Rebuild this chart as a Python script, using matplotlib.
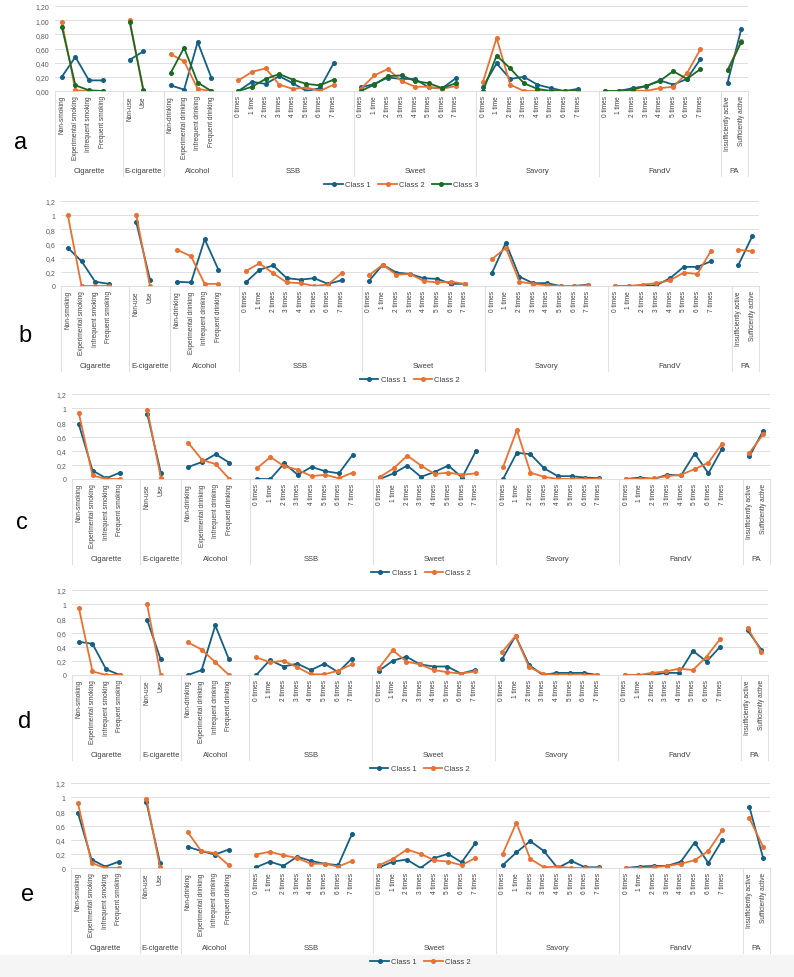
import numpy as np
import matplotlib.pyplot as plt
import matplotlib.transforms as mtransforms

plt.rcParams['font.family'] = ['Liberation Sans', 'DejaVu Sans']

# categories
groups = ["Cigarette", "E-cigarette", "Alcohol", "SSB", "Sweet", "Savory", "FandV", "PA"]
cigarette = ["Non-smoking", "Experimental smoking", "Infrequent smoking", "Frequent smoking"]
ecig = ["Non-use", "Use"]
alcohol = ["Non-drinking", "Experimental drinking", "Infrequent drinking", "Frequent drinking"]
times = ["0 times", "1 time", "2 times", "3 times", "4 times", "5 times", "6 times", "7 times"]
pa = ["Insufficiently active", "Sufficiently active"]
items = [cigarette, ecig, alcohol, times, times, times, times, pa]

# panel a (3 classes)
a1 = [0.20, 0.48, 0.15, 0.15, 0.44, 0.56, 0.08, 0.02, 0.69, 0.19,
      0.00, 0.13, 0.10, 0.21, 0.11, 0.00, 0.04, 0.39,
      0.05, 0.10, 0.19, 0.17, 0.17, 0.05, 0.04, 0.18,
      0.06, 0.39, 0.17, 0.20, 0.09, 0.04, 0.00, 0.03,
      0.00, 0.00, 0.04, 0.07, 0.15, 0.09, 0.17, 0.45, 0.12, 0.87]
a2 = [0.98, 0.01, 0.00, 0.00, 1.00, 0.00, 0.52, 0.42, 0.03, 0.00,
      0.15, 0.27, 0.32, 0.09, 0.03, 0.05, 0.00, 0.09,
      0.03, 0.22, 0.31, 0.14, 0.06, 0.06, 0.03, 0.07,
      0.13, 0.75, 0.09, 0.00, 0.00, 0.00, 0.00, 0.00,
      0.00, 0.00, 0.01, 0.00, 0.04, 0.06, 0.25, 0.59, 0.30, 0.70]
a3 = [0.91, 0.08, 0.01, 0.00, 0.97, 0.02, 0.25, 0.61, 0.12, 0.00,
      0.00, 0.06, 0.17, 0.24, 0.16, 0.10, 0.08, 0.16,
      0.00, 0.09, 0.21, 0.22, 0.14, 0.11, 0.04, 0.11,
      0.00, 0.50, 0.32, 0.11, 0.03, 0.00, 0.00, 0.00,
      0.00, 0.00, 0.02, 0.07, 0.14, 0.28, 0.17, 0.31, 0.29, 0.69]

# panel b
b1 = [0.54, 0.35, 0.06, 0.03, 0.90, 0.09, 0.06, 0.05, 0.66, 0.23,
      0.05, 0.23, 0.29, 0.11, 0.09, 0.11, 0.03, 0.08,
      0.07, 0.30, 0.19, 0.17, 0.11, 0.10, 0.03, 0.03,
      0.19, 0.61, 0.13, 0.04, 0.04, 0.00, 0.00, 0.02,
      0.00, 0.00, 0.00, 0.01, 0.11, 0.27, 0.27, 0.35, 0.30, 0.70]
b2 = [1.00, 0.00, 0.00, 0.00, 1.00, 0.00, 0.51, 0.42, 0.03, 0.03,
      0.21, 0.32, 0.18, 0.05, 0.04, 0.00, 0.02, 0.18,
      0.15, 0.30, 0.16, 0.17, 0.07, 0.05, 0.06, 0.03,
      0.38, 0.54, 0.06, 0.03, 0.01, 0.00, 0.00, 0.01,
      0.00, 0.00, 0.02, 0.04, 0.08, 0.19, 0.17, 0.50, 0.51, 0.49]

# panel c
c1 = [0.77, 0.12, 0.01, 0.09, 0.92, 0.08, 0.17, 0.24, 0.35, 0.23,
      0.00, 0.00, 0.22, 0.06, 0.17, 0.11, 0.08, 0.34,
      0.00, 0.08, 0.19, 0.03, 0.10, 0.19, 0.02, 0.39,
      0.00, 0.37, 0.35, 0.15, 0.04, 0.04, 0.02, 0.01,
      0.00, 0.02, 0.00, 0.06, 0.05, 0.36, 0.08, 0.43, 0.32, 0.68]
c2 = [0.93, 0.05, 0.00, 0.00, 0.98, 0.01, 0.51, 0.27, 0.21, 0.00,
      0.15, 0.31, 0.18, 0.13, 0.04, 0.06, 0.01, 0.09,
      0.03, 0.15, 0.33, 0.19, 0.07, 0.09, 0.06, 0.08,
      0.17, 0.69, 0.09, 0.03, 0.00, 0.00, 0.00, 0.00,
      0.00, 0.00, 0.01, 0.04, 0.06, 0.14, 0.23, 0.50, 0.37, 0.63]

# panel d
d1 = [0.47, 0.44, 0.08, 0.00, 0.78, 0.22, 0.00, 0.07, 0.70, 0.22,
      0.00, 0.21, 0.12, 0.16, 0.07, 0.16, 0.04, 0.23,
      0.06, 0.20, 0.26, 0.15, 0.12, 0.12, 0.02, 0.07,
      0.22, 0.55, 0.14, 0.00, 0.03, 0.03, 0.03, 0.00,
      0.00, 0.00, 0.00, 0.03, 0.03, 0.34, 0.19, 0.40, 0.63, 0.36]
d2 = [0.95, 0.05, 0.00, 0.00, 1.00, 0.00, 0.46, 0.36, 0.18, 0.00,
      0.25, 0.18, 0.20, 0.11, 0.01, 0.01, 0.06, 0.15,
      0.10, 0.35, 0.19, 0.15, 0.07, 0.04, 0.02, 0.05,
      0.32, 0.55, 0.11, 0.02, 0.00, 0.00, 0.00, 0.00,
      0.00, 0.00, 0.03, 0.05, 0.09, 0.07, 0.26, 0.51, 0.67, 0.33]

# panel e
e1 = [0.78, 0.12, 0.02, 0.09, 0.93, 0.07, 0.30, 0.24, 0.19, 0.26,
      0.01, 0.09, 0.03, 0.16, 0.10, 0.06, 0.04, 0.48,
      0.01, 0.09, 0.12, 0.00, 0.14, 0.20, 0.08, 0.35,
      0.04, 0.22, 0.38, 0.24, 0.00, 0.10, 0.01, 0.01,
      0.00, 0.02, 0.03, 0.03, 0.09, 0.36, 0.07, 0.39, 0.86, 0.14]
e2 = [0.92, 0.07, 0.00, 0.00, 0.98, 0.01, 0.51, 0.24, 0.21, 0.04,
      0.19, 0.23, 0.18, 0.14, 0.06, 0.06, 0.02, 0.10,
      0.04, 0.13, 0.26, 0.20, 0.11, 0.09, 0.04, 0.14,
      0.20, 0.64, 0.13, 0.01, 0.02, 0.00, 0.00, 0.00,
      0.00, 0.00, 0.01, 0.03, 0.06, 0.11, 0.24, 0.53, 0.70, 0.30]

colors = ["#156082", "#E97132", "#196B24"]
W, H = 794, 978

# slot positions: one empty slot after each group except the last
positions, labels, bounds = [], [], [0]
pos = 0
for gi, its in enumerate(items):
    for it in its:
        positions.append(pos + 0.5)
        labels.append(it)
        pos += 1
    if gi < len(items) - 1:
        pos += 1
    bounds.append(pos)
nslots = pos

# letter, (left, top, right, bottom) in px, series, y label format, letter pos
panels = [
    ("a", (55, 7, 748, 92), [a1, a2, a3], "{:.2f}", (21, 143)),
    ("b", (61, 202, 759, 287), [b1, b2], "{:g}", (25, 336)),
    ("c", (72, 395, 770, 480), [c1, c2], "{:g}", (22, 523)),
    ("d", (72, 591, 768, 676), [d1, d2], "{:g}", (25, 722)),
    ("e", (71, 784, 770, 869), [e1, e2], "{:g}", (28, 895)),
]

fig = plt.figure(figsize=(W / 100, H / 100), dpi=100)

# light band at the bottom
fig.patches.append(plt.Rectangle((0, 0), 1, 22 / H, transform=fig.transFigure,
                                 color="#f5f5f5", zorder=-5))

for letter, (l, t, r, b), series, fmt, (lx, ly) in panels:
    ax = fig.add_axes([l / W, 1 - b / H, (r - l) / W, (b - t) / H])
    ax.patch.set_alpha(0)
    for ci, vals in enumerate(series):
        k = 0
        for gi, its in enumerate(items):
            n = len(its)
            ax.plot(positions[k:k + n], vals[k:k + n], color=colors[ci],
                    marker="o", ms=2.6, lw=1.3,
                    label="Class %d" % (ci + 1) if gi == 0 else None)
            k += n
    ax.set_xlim(0, nslots)
    ax.set_ylim(0, 1.2)
    yt = np.arange(0, 1.21, 0.2)
    ax.set_yticks(yt)
    ax.set_yticklabels([fmt.format(v).replace(".", ",") for v in yt])
    ax.set_xticks(positions)
    ax.set_xticklabels(labels, rotation=90, fontsize=4.7, color="#404040")
    ax.tick_params(axis="x", length=0, pad=3)
    ax.tick_params(axis="y", length=0, pad=4, labelsize=5, labelcolor="#595959")
    ax.yaxis.grid(True, color="#d9d9d9", lw=0.6)
    ax.set_axisbelow(True)
    for s in ["top", "left", "right"]:
        ax.spines[s].set_visible(False)
    ax.spines["bottom"].set_color("#d9d9d9")
    ax.spines["bottom"].set_linewidth(0.6)

    trans = mtransforms.blended_transform_factory(ax.transData, ax.transAxes)
    for bd in bounds:
        ax.plot([bd, bd], [0, -1.0], transform=trans, color="#d9d9d9",
                lw=0.6, clip_on=False)
    for gi, g in enumerate(groups):
        ax.text((bounds[gi] + bounds[gi + 1]) / 2, -0.94, g, transform=trans,
                ha="center", va="center", fontsize=5.5, color="#404040")

    leg = ax.legend(loc="center", bbox_to_anchor=(0.5, -1.1), ncol=len(series),
                    frameon=False, fontsize=5.5, handlelength=2.4,
                    columnspacing=1.0, handletextpad=0.3, labelcolor="#404040")
    leg.set_zorder(10)

    fig.text(lx / W, 1 - ly / H, letter, fontsize=17, ha="center", va="center")

fig.savefig("out.png", dpi=100)
